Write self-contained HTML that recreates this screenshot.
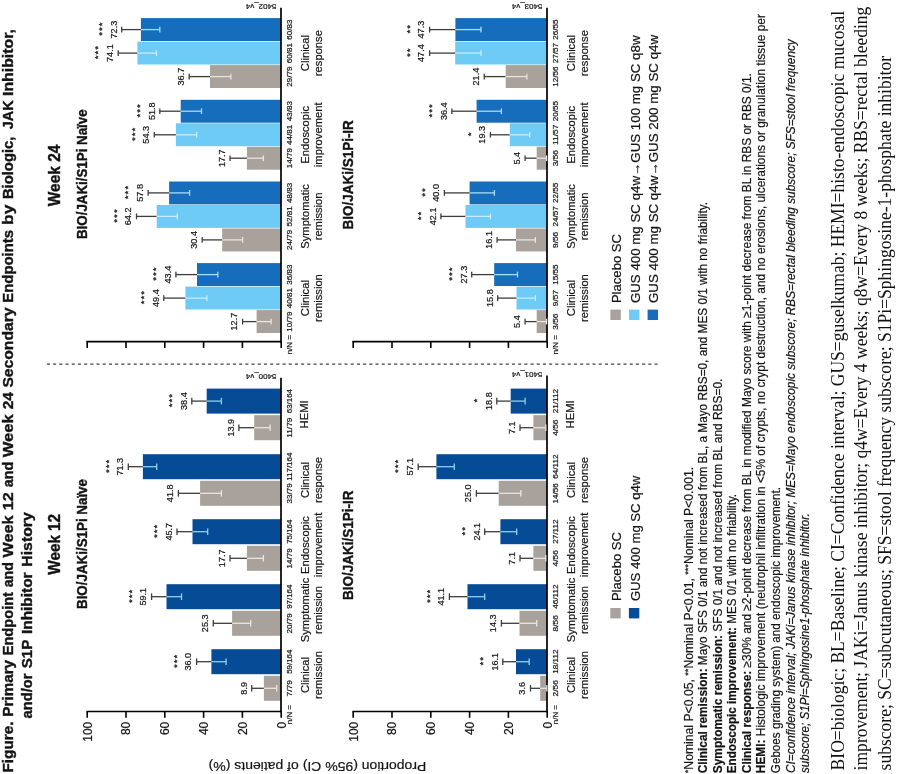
<!DOCTYPE html>
<html lang="en">
<head>
<meta charset="utf-8">
<title>Figure</title>
<style>
html,body{margin:0;padding:0;background:#fff;}
body{width:900px;height:774px;overflow:hidden;}
svg{display:block;}
text{font-family:'Liberation Sans', sans-serif;fill:#111;stroke:#222;stroke-width:0.22px;}
</style>
</head>
<body>
<svg width="900" height="774" viewBox="0 0 900 774">
<rect width="900" height="774" fill="#fff"/>
<g transform="translate(0,774) rotate(-90)">
<text y="13.2" font-size="14.7" font-weight="bold" style="stroke-width:0.4px"><tspan x="1.5" textLength="50.9" lengthAdjust="spacingAndGlyphs">Figure.</tspan> <tspan x="57.3" textLength="56.8" lengthAdjust="spacingAndGlyphs">Primary</tspan> <tspan x="118.7" textLength="63.3" lengthAdjust="spacingAndGlyphs">Endpoint</tspan> <tspan x="186.7" textLength="25.2" lengthAdjust="spacingAndGlyphs">and</tspan> <tspan x="216.5" textLength="41.9" lengthAdjust="spacingAndGlyphs">Week</tspan> <tspan x="263.8" textLength="17.9" lengthAdjust="spacingAndGlyphs">12</tspan> <tspan x="286.8" textLength="25.3" lengthAdjust="spacingAndGlyphs">and</tspan> <tspan x="316.8" textLength="42.9" lengthAdjust="spacingAndGlyphs">Week</tspan> <tspan x="364.7" textLength="17.1" lengthAdjust="spacingAndGlyphs">24</tspan> <tspan x="386.4" textLength="80.2" lengthAdjust="spacingAndGlyphs">Secondary</tspan> <tspan x="471.3" textLength="72.7" lengthAdjust="spacingAndGlyphs">Endpoints</tspan> <tspan x="549.1" textLength="20.2" lengthAdjust="spacingAndGlyphs">by</tspan> <tspan x="574.9" textLength="62.5" lengthAdjust="spacingAndGlyphs">Biologic,</tspan> <tspan x="644.8" textLength="28.8" lengthAdjust="spacingAndGlyphs">JAK</tspan> <tspan x="678.0" textLength="66.9" lengthAdjust="spacingAndGlyphs">Inhibitor,</tspan></text>
<text y="32.1" font-size="14.7" font-weight="bold" style="stroke-width:0.4px"><tspan x="55.6" textLength="44.8" lengthAdjust="spacingAndGlyphs">and/or</tspan> <tspan x="105.7" textLength="28.3" lengthAdjust="spacingAndGlyphs">S1P</tspan> <tspan x="140.0" textLength="61.6" lengthAdjust="spacingAndGlyphs">Inhibitor</tspan> <tspan x="207.3" textLength="54.5" lengthAdjust="spacingAndGlyphs">History</tspan></text>
<text x="229.7" y="59.5" font-size="16" text-anchor="middle" font-weight="bold" style="stroke-width:0.4px" textLength="60.8" lengthAdjust="spacingAndGlyphs">Week 12</text>
<text x="598.6" y="59.5" font-size="16" text-anchor="middle" font-weight="bold" style="stroke-width:0.4px" textLength="61.6" lengthAdjust="spacingAndGlyphs">Week 24</text>
<text transform="translate(12.3,317.5) rotate(-90)" font-size="13.5" text-anchor="middle" textLength="217.6" lengthAdjust="spacingAndGlyphs">Proportion (95% CI) of patients (%)</text>
<line x1="409.8" y1="46.9" x2="409.8" y2="660.5" stroke="#444" stroke-width="1.2" stroke-dasharray="3.1 3.1"/>
<text x="230.0" y="86.5" font-size="13.8" text-anchor="middle" font-weight="bold" style="stroke-width:0.4px" textLength="130.0" lengthAdjust="spacingAndGlyphs">BIO/JAKi/S1Pi Naïve</text>
<rect x="73.2" y="263.9" width="25.0" height="17.3" fill="#a9a19b"/>
<rect x="99.8" y="211.4" width="25.0" height="69.8" fill="#064b96"/>
<rect x="138.2" y="232.1" width="25.0" height="49.1" fill="#a9a19b"/>
<rect x="164.8" y="166.5" width="25.0" height="114.7" fill="#064b96"/>
<rect x="203.2" y="246.9" width="25.0" height="34.3" fill="#a9a19b"/>
<rect x="229.8" y="192.5" width="25.0" height="88.7" fill="#064b96"/>
<rect x="268.2" y="200.1" width="25.0" height="81.1" fill="#a9a19b"/>
<rect x="294.8" y="142.9" width="25.0" height="138.3" fill="#064b96"/>
<rect x="333.8" y="254.2" width="25.0" height="27.0" fill="#a9a19b"/>
<rect x="360.4" y="206.7" width="25.0" height="74.5" fill="#064b96"/>
<line x1="62.5" y1="86.4" x2="62.5" y2="281.8" stroke="#000" stroke-width="1.6"/>
<line x1="61.7" y1="281.0" x2="396.2" y2="281.0" stroke="#000" stroke-width="1.7"/>
<line x1="56.2" y1="281.2" x2="62.5" y2="281.2" stroke="#000" stroke-width="1.6"/>
<text x="52.3" y="285.5" font-size="12" text-anchor="end">0</text>
<line x1="56.2" y1="242.4" x2="62.5" y2="242.4" stroke="#000" stroke-width="1.6"/>
<text x="52.3" y="246.7" font-size="12" text-anchor="end">20</text>
<line x1="56.2" y1="203.6" x2="62.5" y2="203.6" stroke="#000" stroke-width="1.6"/>
<text x="52.3" y="207.9" font-size="12" text-anchor="end">40</text>
<line x1="56.2" y1="164.8" x2="62.5" y2="164.8" stroke="#000" stroke-width="1.6"/>
<text x="52.3" y="169.1" font-size="12" text-anchor="end">60</text>
<line x1="56.2" y1="126.0" x2="62.5" y2="126.0" stroke="#000" stroke-width="1.6"/>
<text x="52.3" y="130.3" font-size="12" text-anchor="end">80</text>
<line x1="56.2" y1="87.2" x2="62.5" y2="87.2" stroke="#000" stroke-width="1.6"/>
<text x="52.3" y="91.5" font-size="12" text-anchor="end">100</text>
<line x1="85.7" y1="251.7" x2="85.7" y2="263.9" stroke="#3c3c3c" stroke-width="1.3"/>
<line x1="82.4" y1="251.7" x2="89.0" y2="251.7" stroke="#3c3c3c" stroke-width="1.3"/>
<line x1="85.7" y1="263.9" x2="85.7" y2="276.7" stroke="#e9e5e1" stroke-width="1.3"/>
<line x1="82.4" y1="276.7" x2="89.0" y2="276.7" stroke="#e9e5e1" stroke-width="1.3"/>
<text x="85.7" y="246.5" font-size="9.1" text-anchor="middle" fill="#222">8.9</text>
<text x="85.7" y="292.1" font-size="7" text-anchor="middle" textLength="16.2" lengthAdjust="spacingAndGlyphs" fill="#222">7/79</text>
<line x1="112.3" y1="196.6" x2="112.3" y2="211.4" stroke="#3c3c3c" stroke-width="1.3"/>
<line x1="109.0" y1="196.6" x2="115.6" y2="196.6" stroke="#3c3c3c" stroke-width="1.3"/>
<line x1="112.3" y1="211.4" x2="112.3" y2="226.1" stroke="#8fd0f2" stroke-width="1.3"/>
<line x1="109.0" y1="226.1" x2="115.6" y2="226.1" stroke="#8fd0f2" stroke-width="1.3"/>
<text x="112.3" y="191.4" font-size="9.1" text-anchor="middle" fill="#222">36.0</text>
<text x="113.2" y="179.8" font-size="9.7" text-anchor="middle" fill="#222" letter-spacing="1.0">***</text>
<text x="112.3" y="292.1" font-size="7" text-anchor="middle" textLength="24.3" lengthAdjust="spacingAndGlyphs" fill="#222">59/164</text>
<line x1="150.7" y1="213.3" x2="150.7" y2="232.1" stroke="#3c3c3c" stroke-width="1.3"/>
<line x1="147.4" y1="213.3" x2="154.0" y2="213.3" stroke="#3c3c3c" stroke-width="1.3"/>
<line x1="150.7" y1="232.1" x2="150.7" y2="250.7" stroke="#e9e5e1" stroke-width="1.3"/>
<line x1="147.4" y1="250.7" x2="154.0" y2="250.7" stroke="#e9e5e1" stroke-width="1.3"/>
<text x="150.7" y="208.1" font-size="9.1" text-anchor="middle" fill="#222">25.3</text>
<text x="150.7" y="292.1" font-size="7" text-anchor="middle" textLength="20.2" lengthAdjust="spacingAndGlyphs" fill="#222">20/79</text>
<line x1="177.3" y1="151.6" x2="177.3" y2="166.5" stroke="#3c3c3c" stroke-width="1.3"/>
<line x1="174.0" y1="151.6" x2="180.6" y2="151.6" stroke="#3c3c3c" stroke-width="1.3"/>
<line x1="177.3" y1="166.5" x2="177.3" y2="181.5" stroke="#8fd0f2" stroke-width="1.3"/>
<line x1="174.0" y1="181.5" x2="180.6" y2="181.5" stroke="#8fd0f2" stroke-width="1.3"/>
<text x="177.3" y="146.4" font-size="9.1" text-anchor="middle" fill="#222">59.1</text>
<text x="178.2" y="134.8" font-size="9.7" text-anchor="middle" fill="#222" letter-spacing="1.0">***</text>
<text x="177.3" y="292.1" font-size="7" text-anchor="middle" textLength="24.3" lengthAdjust="spacingAndGlyphs" fill="#222">97/164</text>
<line x1="215.7" y1="230.0" x2="215.7" y2="246.9" stroke="#3c3c3c" stroke-width="1.3"/>
<line x1="212.4" y1="230.0" x2="219.0" y2="230.0" stroke="#3c3c3c" stroke-width="1.3"/>
<line x1="215.7" y1="246.9" x2="215.7" y2="263.4" stroke="#e9e5e1" stroke-width="1.3"/>
<line x1="212.4" y1="263.4" x2="219.0" y2="263.4" stroke="#e9e5e1" stroke-width="1.3"/>
<text x="215.7" y="224.8" font-size="9.1" text-anchor="middle" fill="#222">17.7</text>
<text x="215.7" y="292.1" font-size="7" text-anchor="middle" textLength="20.2" lengthAdjust="spacingAndGlyphs" fill="#222">14/79</text>
<line x1="242.3" y1="177.0" x2="242.3" y2="192.5" stroke="#3c3c3c" stroke-width="1.3"/>
<line x1="239.0" y1="177.0" x2="245.6" y2="177.0" stroke="#3c3c3c" stroke-width="1.3"/>
<line x1="242.3" y1="192.5" x2="242.3" y2="207.7" stroke="#8fd0f2" stroke-width="1.3"/>
<line x1="239.0" y1="207.7" x2="245.6" y2="207.7" stroke="#8fd0f2" stroke-width="1.3"/>
<text x="242.3" y="171.8" font-size="9.1" text-anchor="middle" fill="#222">45.7</text>
<text x="243.2" y="160.2" font-size="9.7" text-anchor="middle" fill="#222" letter-spacing="1.0">***</text>
<text x="242.3" y="292.1" font-size="7" text-anchor="middle" textLength="24.3" lengthAdjust="spacingAndGlyphs" fill="#222">75/164</text>
<line x1="280.7" y1="178.4" x2="280.7" y2="200.1" stroke="#3c3c3c" stroke-width="1.3"/>
<line x1="277.4" y1="178.4" x2="284.0" y2="178.4" stroke="#3c3c3c" stroke-width="1.3"/>
<line x1="280.7" y1="200.1" x2="280.7" y2="221.4" stroke="#e9e5e1" stroke-width="1.3"/>
<line x1="277.4" y1="221.4" x2="284.0" y2="221.4" stroke="#e9e5e1" stroke-width="1.3"/>
<text x="280.7" y="173.2" font-size="9.1" text-anchor="middle" fill="#222">41.8</text>
<text x="280.7" y="292.1" font-size="7" text-anchor="middle" textLength="20.2" lengthAdjust="spacingAndGlyphs" fill="#222">33/79</text>
<line x1="307.3" y1="128.3" x2="307.3" y2="142.9" stroke="#3c3c3c" stroke-width="1.3"/>
<line x1="304.0" y1="128.3" x2="310.6" y2="128.3" stroke="#3c3c3c" stroke-width="1.3"/>
<line x1="307.3" y1="142.9" x2="307.3" y2="156.7" stroke="#8fd0f2" stroke-width="1.3"/>
<line x1="304.0" y1="156.7" x2="310.6" y2="156.7" stroke="#8fd0f2" stroke-width="1.3"/>
<text x="307.3" y="123.1" font-size="9.1" text-anchor="middle" fill="#222">71.3</text>
<text x="308.2" y="111.5" font-size="9.7" text-anchor="middle" fill="#222" letter-spacing="1.0">***</text>
<text x="307.3" y="292.1" font-size="7" text-anchor="middle" textLength="28.3" lengthAdjust="spacingAndGlyphs" fill="#222">117/164</text>
<line x1="346.3" y1="238.9" x2="346.3" y2="254.2" stroke="#3c3c3c" stroke-width="1.3"/>
<line x1="343.0" y1="238.9" x2="349.6" y2="238.9" stroke="#3c3c3c" stroke-width="1.3"/>
<line x1="346.3" y1="254.2" x2="346.3" y2="270.1" stroke="#e9e5e1" stroke-width="1.3"/>
<line x1="343.0" y1="270.1" x2="349.6" y2="270.1" stroke="#e9e5e1" stroke-width="1.3"/>
<text x="346.3" y="233.7" font-size="9.1" text-anchor="middle" fill="#222">13.9</text>
<text x="346.3" y="292.1" font-size="7" text-anchor="middle" textLength="20.2" lengthAdjust="spacingAndGlyphs" fill="#222">11/79</text>
<line x1="372.9" y1="191.8" x2="372.9" y2="206.7" stroke="#3c3c3c" stroke-width="1.3"/>
<line x1="369.6" y1="191.8" x2="376.2" y2="191.8" stroke="#3c3c3c" stroke-width="1.3"/>
<line x1="372.9" y1="206.7" x2="372.9" y2="221.4" stroke="#8fd0f2" stroke-width="1.3"/>
<line x1="369.6" y1="221.4" x2="376.2" y2="221.4" stroke="#8fd0f2" stroke-width="1.3"/>
<text x="372.9" y="186.6" font-size="9.1" text-anchor="middle" fill="#222">38.4</text>
<text x="373.8" y="175.0" font-size="9.7" text-anchor="middle" fill="#222" letter-spacing="1.0">***</text>
<text x="372.9" y="292.1" font-size="7" text-anchor="middle" textLength="24.3" lengthAdjust="spacingAndGlyphs" fill="#222">63/164</text>
<text x="49.8" y="292.1" font-size="7" textLength="19.2" lengthAdjust="spacingAndGlyphs" fill="#222">n/N =</text>
<text x="99.0" y="308.7" font-size="11.2" text-anchor="middle" fill="#222">Clinical</text>
<text x="99.0" y="321.6" font-size="11.2" text-anchor="middle" fill="#222">remission</text>
<text x="164.0" y="308.7" font-size="11.2" text-anchor="middle" fill="#222">Symptomatic</text>
<text x="164.0" y="321.6" font-size="11.2" text-anchor="middle" fill="#222">remission</text>
<text x="229.0" y="308.7" font-size="11.2" text-anchor="middle" fill="#222">Endoscopic</text>
<text x="229.0" y="321.6" font-size="11.2" text-anchor="middle" fill="#222">improvement</text>
<text x="294.0" y="308.7" font-size="11.2" text-anchor="middle" fill="#222">Clinical</text>
<text x="294.0" y="321.6" font-size="11.2" text-anchor="middle" fill="#222">response</text>
<text x="359.6" y="308.2" font-size="11.2" text-anchor="middle" fill="#222">HEMI</text>
<text transform="translate(400.0,276.3) rotate(-90)" font-size="7.2" fill="#333" textLength="30.4" lengthAdjust="spacingAndGlyphs">5400_v4</text>
<text x="228.8" y="352.5" font-size="13.8" text-anchor="middle" font-weight="bold" style="stroke-width:0.4px" textLength="109.4" lengthAdjust="spacingAndGlyphs">BIO/JAKi/S1Pi-IR</text>
<rect x="73.2" y="540.2" width="25.0" height="7.0" fill="#a9a19b"/>
<rect x="99.8" y="516.0" width="25.0" height="31.2" fill="#064b96"/>
<rect x="138.2" y="519.5" width="25.0" height="27.7" fill="#a9a19b"/>
<rect x="164.8" y="467.5" width="25.0" height="79.7" fill="#064b96"/>
<rect x="203.2" y="533.4" width="25.0" height="13.8" fill="#a9a19b"/>
<rect x="229.8" y="500.4" width="25.0" height="46.8" fill="#064b96"/>
<rect x="268.2" y="498.7" width="25.0" height="48.5" fill="#a9a19b"/>
<rect x="294.8" y="436.4" width="25.0" height="110.8" fill="#064b96"/>
<rect x="333.8" y="533.4" width="25.0" height="13.8" fill="#a9a19b"/>
<rect x="360.4" y="510.7" width="25.0" height="36.5" fill="#064b96"/>
<line x1="62.5" y1="352.4" x2="62.5" y2="547.8" stroke="#000" stroke-width="1.6"/>
<line x1="61.7" y1="547.0" x2="398.4" y2="547.0" stroke="#000" stroke-width="1.7"/>
<line x1="56.2" y1="547.2" x2="62.5" y2="547.2" stroke="#000" stroke-width="1.6"/>
<text x="52.3" y="551.5" font-size="12" text-anchor="end">0</text>
<line x1="56.2" y1="508.4" x2="62.5" y2="508.4" stroke="#000" stroke-width="1.6"/>
<text x="52.3" y="512.7" font-size="12" text-anchor="end">20</text>
<line x1="56.2" y1="469.6" x2="62.5" y2="469.6" stroke="#000" stroke-width="1.6"/>
<text x="52.3" y="473.9" font-size="12" text-anchor="end">40</text>
<line x1="56.2" y1="430.8" x2="62.5" y2="430.8" stroke="#000" stroke-width="1.6"/>
<text x="52.3" y="435.1" font-size="12" text-anchor="end">60</text>
<line x1="56.2" y1="392.0" x2="62.5" y2="392.0" stroke="#000" stroke-width="1.6"/>
<text x="52.3" y="396.3" font-size="12" text-anchor="end">80</text>
<line x1="56.2" y1="353.2" x2="62.5" y2="353.2" stroke="#000" stroke-width="1.6"/>
<text x="52.3" y="357.5" font-size="12" text-anchor="end">100</text>
<line x1="85.7" y1="530.5" x2="85.7" y2="540.2" stroke="#3c3c3c" stroke-width="1.3"/>
<line x1="82.4" y1="530.5" x2="89.0" y2="530.5" stroke="#3c3c3c" stroke-width="1.3"/>
<line x1="85.7" y1="540.2" x2="85.7" y2="546.8" stroke="#e9e5e1" stroke-width="1.3"/>
<line x1="82.4" y1="546.8" x2="89.0" y2="546.8" stroke="#e9e5e1" stroke-width="1.3"/>
<text x="85.7" y="525.3" font-size="9.1" text-anchor="middle" fill="#222">3.6</text>
<text x="85.7" y="558.1" font-size="7" text-anchor="middle" textLength="16.2" lengthAdjust="spacingAndGlyphs" fill="#222">2/56</text>
<line x1="112.3" y1="502.8" x2="112.3" y2="516.0" stroke="#3c3c3c" stroke-width="1.3"/>
<line x1="109.0" y1="502.8" x2="115.6" y2="502.8" stroke="#3c3c3c" stroke-width="1.3"/>
<line x1="112.3" y1="516.0" x2="112.3" y2="529.2" stroke="#8fd0f2" stroke-width="1.3"/>
<line x1="109.0" y1="529.2" x2="115.6" y2="529.2" stroke="#8fd0f2" stroke-width="1.3"/>
<text x="112.3" y="497.6" font-size="9.1" text-anchor="middle" fill="#222">16.1</text>
<text x="113.2" y="486.0" font-size="9.7" text-anchor="middle" fill="#222" letter-spacing="1.0">**</text>
<text x="112.3" y="558.1" font-size="7" text-anchor="middle" textLength="24.3" lengthAdjust="spacingAndGlyphs" fill="#222">18/112</text>
<line x1="150.7" y1="501.4" x2="150.7" y2="519.5" stroke="#3c3c3c" stroke-width="1.3"/>
<line x1="147.4" y1="501.4" x2="154.0" y2="501.4" stroke="#3c3c3c" stroke-width="1.3"/>
<line x1="150.7" y1="519.5" x2="150.7" y2="536.7" stroke="#e9e5e1" stroke-width="1.3"/>
<line x1="147.4" y1="536.7" x2="154.0" y2="536.7" stroke="#e9e5e1" stroke-width="1.3"/>
<text x="150.7" y="496.2" font-size="9.1" text-anchor="middle" fill="#222">14.3</text>
<text x="150.7" y="558.1" font-size="7" text-anchor="middle" textLength="16.2" lengthAdjust="spacingAndGlyphs" fill="#222">8/56</text>
<line x1="177.3" y1="449.4" x2="177.3" y2="467.5" stroke="#3c3c3c" stroke-width="1.3"/>
<line x1="174.0" y1="449.4" x2="180.6" y2="449.4" stroke="#3c3c3c" stroke-width="1.3"/>
<line x1="177.3" y1="467.5" x2="177.3" y2="484.7" stroke="#8fd0f2" stroke-width="1.3"/>
<line x1="174.0" y1="484.7" x2="180.6" y2="484.7" stroke="#8fd0f2" stroke-width="1.3"/>
<text x="177.3" y="444.2" font-size="9.1" text-anchor="middle" fill="#222">41.1</text>
<text x="178.2" y="432.6" font-size="9.7" text-anchor="middle" fill="#222" letter-spacing="1.0">***</text>
<text x="177.3" y="558.1" font-size="7" text-anchor="middle" textLength="24.3" lengthAdjust="spacingAndGlyphs" fill="#222">46/112</text>
<line x1="215.7" y1="520.0" x2="215.7" y2="533.4" stroke="#3c3c3c" stroke-width="1.3"/>
<line x1="212.4" y1="520.0" x2="219.0" y2="520.0" stroke="#3c3c3c" stroke-width="1.3"/>
<line x1="215.7" y1="533.4" x2="215.7" y2="545.8" stroke="#e9e5e1" stroke-width="1.3"/>
<line x1="212.4" y1="545.8" x2="219.0" y2="545.8" stroke="#e9e5e1" stroke-width="1.3"/>
<text x="215.7" y="514.8" font-size="9.1" text-anchor="middle" fill="#222">7.1</text>
<text x="215.7" y="558.1" font-size="7" text-anchor="middle" textLength="16.2" lengthAdjust="spacingAndGlyphs" fill="#222">4/56</text>
<line x1="242.3" y1="484.7" x2="242.3" y2="500.4" stroke="#3c3c3c" stroke-width="1.3"/>
<line x1="239.0" y1="484.7" x2="245.6" y2="484.7" stroke="#3c3c3c" stroke-width="1.3"/>
<line x1="242.3" y1="500.4" x2="242.3" y2="516.7" stroke="#8fd0f2" stroke-width="1.3"/>
<line x1="239.0" y1="516.7" x2="245.6" y2="516.7" stroke="#8fd0f2" stroke-width="1.3"/>
<text x="242.3" y="479.5" font-size="9.1" text-anchor="middle" fill="#222">24.1</text>
<text x="243.2" y="467.9" font-size="9.7" text-anchor="middle" fill="#222" letter-spacing="1.0">**</text>
<text x="242.3" y="558.1" font-size="7" text-anchor="middle" textLength="24.3" lengthAdjust="spacingAndGlyphs" fill="#222">27/112</text>
<line x1="280.7" y1="476.4" x2="280.7" y2="498.7" stroke="#3c3c3c" stroke-width="1.3"/>
<line x1="277.4" y1="476.4" x2="284.0" y2="476.4" stroke="#3c3c3c" stroke-width="1.3"/>
<line x1="280.7" y1="498.7" x2="280.7" y2="520.8" stroke="#e9e5e1" stroke-width="1.3"/>
<line x1="277.4" y1="520.8" x2="284.0" y2="520.8" stroke="#e9e5e1" stroke-width="1.3"/>
<text x="280.7" y="471.2" font-size="9.1" text-anchor="middle" fill="#222">25.0</text>
<text x="280.7" y="558.1" font-size="7" text-anchor="middle" textLength="20.2" lengthAdjust="spacingAndGlyphs" fill="#222">14/56</text>
<line x1="307.3" y1="418.2" x2="307.3" y2="436.4" stroke="#3c3c3c" stroke-width="1.3"/>
<line x1="304.0" y1="418.2" x2="310.6" y2="418.2" stroke="#3c3c3c" stroke-width="1.3"/>
<line x1="307.3" y1="436.4" x2="307.3" y2="454.3" stroke="#8fd0f2" stroke-width="1.3"/>
<line x1="304.0" y1="454.3" x2="310.6" y2="454.3" stroke="#8fd0f2" stroke-width="1.3"/>
<text x="307.3" y="413.0" font-size="9.1" text-anchor="middle" fill="#222">57.1</text>
<text x="308.2" y="401.4" font-size="9.7" text-anchor="middle" fill="#222" letter-spacing="1.0">***</text>
<text x="307.3" y="558.1" font-size="7" text-anchor="middle" textLength="24.3" lengthAdjust="spacingAndGlyphs" fill="#222">64/112</text>
<line x1="346.3" y1="520.0" x2="346.3" y2="533.4" stroke="#3c3c3c" stroke-width="1.3"/>
<line x1="343.0" y1="520.0" x2="349.6" y2="520.0" stroke="#3c3c3c" stroke-width="1.3"/>
<line x1="346.3" y1="533.4" x2="346.3" y2="545.8" stroke="#e9e5e1" stroke-width="1.3"/>
<line x1="343.0" y1="545.8" x2="349.6" y2="545.8" stroke="#e9e5e1" stroke-width="1.3"/>
<text x="346.3" y="514.8" font-size="9.1" text-anchor="middle" fill="#222">7.1</text>
<text x="346.3" y="558.1" font-size="7" text-anchor="middle" textLength="16.2" lengthAdjust="spacingAndGlyphs" fill="#222">4/56</text>
<line x1="372.9" y1="496.8" x2="372.9" y2="510.7" stroke="#3c3c3c" stroke-width="1.3"/>
<line x1="369.6" y1="496.8" x2="376.2" y2="496.8" stroke="#3c3c3c" stroke-width="1.3"/>
<line x1="372.9" y1="510.7" x2="372.9" y2="525.1" stroke="#8fd0f2" stroke-width="1.3"/>
<line x1="369.6" y1="525.1" x2="376.2" y2="525.1" stroke="#8fd0f2" stroke-width="1.3"/>
<text x="372.9" y="491.6" font-size="9.1" text-anchor="middle" fill="#222">18.8</text>
<text x="373.8" y="480.0" font-size="9.7" text-anchor="middle" fill="#222" letter-spacing="1.0">*</text>
<text x="372.9" y="558.1" font-size="7" text-anchor="middle" textLength="24.3" lengthAdjust="spacingAndGlyphs" fill="#222">21/112</text>
<text x="49.8" y="558.1" font-size="7" textLength="19.2" lengthAdjust="spacingAndGlyphs" fill="#222">n/N =</text>
<text x="99.0" y="574.7" font-size="11.2" text-anchor="middle" fill="#222">Clinical</text>
<text x="99.0" y="587.6" font-size="11.2" text-anchor="middle" fill="#222">remission</text>
<text x="164.0" y="574.7" font-size="11.2" text-anchor="middle" fill="#222">Symptomatic</text>
<text x="164.0" y="587.6" font-size="11.2" text-anchor="middle" fill="#222">remission</text>
<text x="229.0" y="574.7" font-size="11.2" text-anchor="middle" fill="#222">Endoscopic</text>
<text x="229.0" y="587.6" font-size="11.2" text-anchor="middle" fill="#222">improvement</text>
<text x="294.0" y="574.7" font-size="11.2" text-anchor="middle" fill="#222">Clinical</text>
<text x="294.0" y="587.6" font-size="11.2" text-anchor="middle" fill="#222">response</text>
<text x="359.6" y="574.2" font-size="11.2" text-anchor="middle" fill="#222">HEMI</text>
<text transform="translate(402.2,542.3) rotate(-90)" font-size="7.2" fill="#333" textLength="30.4" lengthAdjust="spacingAndGlyphs">5401_v4</text>
<text x="599.8" y="86.5" font-size="13.8" text-anchor="middle" font-weight="bold" style="stroke-width:0.4px" textLength="129.6" lengthAdjust="spacingAndGlyphs">BIO/JAKi/S1Pi Naïve</text>
<rect x="441.0" y="256.6" width="22.9" height="24.6" fill="#a9a19b"/>
<rect x="464.5" y="185.4" width="22.9" height="95.8" fill="#6dcbf5"/>
<rect x="488.0" y="197.0" width="22.9" height="84.2" fill="#166dbb"/>
<rect x="522.6" y="222.2" width="22.9" height="59.0" fill="#a9a19b"/>
<rect x="546.1" y="156.7" width="22.9" height="124.5" fill="#6dcbf5"/>
<rect x="569.6" y="169.1" width="22.9" height="112.1" fill="#166dbb"/>
<rect x="604.3" y="246.9" width="22.9" height="34.3" fill="#a9a19b"/>
<rect x="627.8" y="175.9" width="22.9" height="105.3" fill="#6dcbf5"/>
<rect x="651.3" y="180.7" width="22.9" height="100.5" fill="#166dbb"/>
<rect x="686.0" y="210.0" width="22.9" height="71.2" fill="#a9a19b"/>
<rect x="709.5" y="137.4" width="22.9" height="143.8" fill="#6dcbf5"/>
<rect x="733.0" y="140.9" width="22.9" height="140.3" fill="#166dbb"/>
<line x1="432.4" y1="86.4" x2="432.4" y2="281.8" stroke="#000" stroke-width="1.6"/>
<line x1="431.6" y1="281.0" x2="766.2" y2="281.0" stroke="#000" stroke-width="1.7"/>
<line x1="426.1" y1="281.2" x2="432.4" y2="281.2" stroke="#000" stroke-width="1.6"/>
<line x1="426.1" y1="242.4" x2="432.4" y2="242.4" stroke="#000" stroke-width="1.6"/>
<line x1="426.1" y1="203.6" x2="432.4" y2="203.6" stroke="#000" stroke-width="1.6"/>
<line x1="426.1" y1="164.8" x2="432.4" y2="164.8" stroke="#000" stroke-width="1.6"/>
<line x1="426.1" y1="126.0" x2="432.4" y2="126.0" stroke="#000" stroke-width="1.6"/>
<line x1="426.1" y1="87.2" x2="432.4" y2="87.2" stroke="#000" stroke-width="1.6"/>
<line x1="452.4" y1="242.6" x2="452.4" y2="256.6" stroke="#3c3c3c" stroke-width="1.3"/>
<line x1="449.6" y1="242.6" x2="455.3" y2="242.6" stroke="#3c3c3c" stroke-width="1.3"/>
<line x1="452.4" y1="256.6" x2="452.4" y2="271.1" stroke="#e9e5e1" stroke-width="1.3"/>
<line x1="449.6" y1="271.1" x2="455.3" y2="271.1" stroke="#e9e5e1" stroke-width="1.3"/>
<text x="452.4" y="237.4" font-size="9.1" text-anchor="middle" fill="#222">12.7</text>
<text x="452.4" y="292.1" font-size="7" text-anchor="middle" textLength="20.2" lengthAdjust="spacingAndGlyphs" fill="#222">10/79</text>
<line x1="475.9" y1="163.8" x2="475.9" y2="185.4" stroke="#3c3c3c" stroke-width="1.3"/>
<line x1="473.1" y1="163.8" x2="478.8" y2="163.8" stroke="#3c3c3c" stroke-width="1.3"/>
<line x1="475.9" y1="185.4" x2="475.9" y2="206.9" stroke="#c9ecfb" stroke-width="1.3"/>
<line x1="473.1" y1="206.9" x2="478.8" y2="206.9" stroke="#c9ecfb" stroke-width="1.3"/>
<text x="475.9" y="158.6" font-size="9.1" text-anchor="middle" fill="#222">49.4</text>
<text x="476.8" y="147.0" font-size="9.7" text-anchor="middle" fill="#222" letter-spacing="1.0">***</text>
<text x="475.9" y="292.1" font-size="7" text-anchor="middle" textLength="20.2" lengthAdjust="spacingAndGlyphs" fill="#222">40/81</text>
<line x1="499.4" y1="175.9" x2="499.4" y2="197.0" stroke="#3c3c3c" stroke-width="1.3"/>
<line x1="496.6" y1="175.9" x2="502.3" y2="175.9" stroke="#3c3c3c" stroke-width="1.3"/>
<line x1="499.4" y1="197.0" x2="499.4" y2="217.8" stroke="#a9dcf7" stroke-width="1.3"/>
<line x1="496.6" y1="217.8" x2="502.3" y2="217.8" stroke="#a9dcf7" stroke-width="1.3"/>
<text x="499.4" y="170.7" font-size="9.1" text-anchor="middle" fill="#222">43.4</text>
<text x="500.3" y="159.1" font-size="9.7" text-anchor="middle" fill="#222" letter-spacing="1.0">***</text>
<text x="499.4" y="292.1" font-size="7" text-anchor="middle" textLength="20.2" lengthAdjust="spacingAndGlyphs" fill="#222">36/83</text>
<line x1="534.1" y1="202.2" x2="534.1" y2="222.2" stroke="#3c3c3c" stroke-width="1.3"/>
<line x1="531.2" y1="202.2" x2="537.0" y2="202.2" stroke="#3c3c3c" stroke-width="1.3"/>
<line x1="534.1" y1="222.2" x2="534.1" y2="242.6" stroke="#e9e5e1" stroke-width="1.3"/>
<line x1="531.2" y1="242.6" x2="537.0" y2="242.6" stroke="#e9e5e1" stroke-width="1.3"/>
<text x="534.1" y="197.0" font-size="9.1" text-anchor="middle" fill="#222">30.4</text>
<text x="534.1" y="292.1" font-size="7" text-anchor="middle" textLength="20.2" lengthAdjust="spacingAndGlyphs" fill="#222">24/79</text>
<line x1="557.6" y1="136.5" x2="557.6" y2="156.7" stroke="#3c3c3c" stroke-width="1.3"/>
<line x1="554.7" y1="136.5" x2="560.5" y2="136.5" stroke="#3c3c3c" stroke-width="1.3"/>
<line x1="557.6" y1="156.7" x2="557.6" y2="177.2" stroke="#c9ecfb" stroke-width="1.3"/>
<line x1="554.7" y1="177.2" x2="560.5" y2="177.2" stroke="#c9ecfb" stroke-width="1.3"/>
<text x="557.6" y="131.3" font-size="9.1" text-anchor="middle" fill="#222">64.2</text>
<text x="558.5" y="119.7" font-size="9.7" text-anchor="middle" fill="#222" letter-spacing="1.0">***</text>
<text x="557.6" y="292.1" font-size="7" text-anchor="middle" textLength="20.2" lengthAdjust="spacingAndGlyphs" fill="#222">52/81</text>
<line x1="581.1" y1="148.1" x2="581.1" y2="169.1" stroke="#3c3c3c" stroke-width="1.3"/>
<line x1="578.2" y1="148.1" x2="584.0" y2="148.1" stroke="#3c3c3c" stroke-width="1.3"/>
<line x1="581.1" y1="169.1" x2="581.1" y2="189.6" stroke="#a9dcf7" stroke-width="1.3"/>
<line x1="578.2" y1="189.6" x2="584.0" y2="189.6" stroke="#a9dcf7" stroke-width="1.3"/>
<text x="581.1" y="142.9" font-size="9.1" text-anchor="middle" fill="#222">57.8</text>
<text x="582.0" y="131.3" font-size="9.7" text-anchor="middle" fill="#222" letter-spacing="1.0">***</text>
<text x="581.1" y="292.1" font-size="7" text-anchor="middle" textLength="20.2" lengthAdjust="spacingAndGlyphs" fill="#222">48/83</text>
<line x1="615.8" y1="230.0" x2="615.8" y2="246.9" stroke="#3c3c3c" stroke-width="1.3"/>
<line x1="612.9" y1="230.0" x2="618.6" y2="230.0" stroke="#3c3c3c" stroke-width="1.3"/>
<line x1="615.8" y1="246.9" x2="615.8" y2="263.4" stroke="#e9e5e1" stroke-width="1.3"/>
<line x1="612.9" y1="263.4" x2="618.6" y2="263.4" stroke="#e9e5e1" stroke-width="1.3"/>
<text x="615.8" y="224.8" font-size="9.1" text-anchor="middle" fill="#222">17.7</text>
<text x="615.8" y="292.1" font-size="7" text-anchor="middle" textLength="20.2" lengthAdjust="spacingAndGlyphs" fill="#222">14/79</text>
<line x1="639.2" y1="154.3" x2="639.2" y2="175.9" stroke="#3c3c3c" stroke-width="1.3"/>
<line x1="636.4" y1="154.3" x2="642.1" y2="154.3" stroke="#3c3c3c" stroke-width="1.3"/>
<line x1="639.2" y1="175.9" x2="639.2" y2="196.6" stroke="#c9ecfb" stroke-width="1.3"/>
<line x1="636.4" y1="196.6" x2="642.1" y2="196.6" stroke="#c9ecfb" stroke-width="1.3"/>
<text x="639.2" y="149.1" font-size="9.1" text-anchor="middle" fill="#222">54.3</text>
<text x="640.1" y="137.5" font-size="9.7" text-anchor="middle" fill="#222" letter-spacing="1.0">***</text>
<text x="639.2" y="292.1" font-size="7" text-anchor="middle" textLength="20.2" lengthAdjust="spacingAndGlyphs" fill="#222">44/81</text>
<line x1="662.8" y1="159.8" x2="662.8" y2="180.7" stroke="#3c3c3c" stroke-width="1.3"/>
<line x1="659.9" y1="159.8" x2="665.6" y2="159.8" stroke="#3c3c3c" stroke-width="1.3"/>
<line x1="662.8" y1="180.7" x2="662.8" y2="201.5" stroke="#a9dcf7" stroke-width="1.3"/>
<line x1="659.9" y1="201.5" x2="665.6" y2="201.5" stroke="#a9dcf7" stroke-width="1.3"/>
<text x="662.8" y="154.6" font-size="9.1" text-anchor="middle" fill="#222">51.8</text>
<text x="663.6" y="143.0" font-size="9.7" text-anchor="middle" fill="#222" letter-spacing="1.0">***</text>
<text x="662.8" y="292.1" font-size="7" text-anchor="middle" textLength="20.2" lengthAdjust="spacingAndGlyphs" fill="#222">43/83</text>
<line x1="697.4" y1="189.2" x2="697.4" y2="210.0" stroke="#3c3c3c" stroke-width="1.3"/>
<line x1="694.5" y1="189.2" x2="700.3" y2="189.2" stroke="#3c3c3c" stroke-width="1.3"/>
<line x1="697.4" y1="210.0" x2="697.4" y2="230.8" stroke="#e9e5e1" stroke-width="1.3"/>
<line x1="694.5" y1="230.8" x2="700.3" y2="230.8" stroke="#e9e5e1" stroke-width="1.3"/>
<text x="697.4" y="184.0" font-size="9.1" text-anchor="middle" fill="#222">36.7</text>
<text x="697.4" y="292.1" font-size="7" text-anchor="middle" textLength="20.2" lengthAdjust="spacingAndGlyphs" fill="#222">29/79</text>
<line x1="720.9" y1="118.2" x2="720.9" y2="137.4" stroke="#3c3c3c" stroke-width="1.3"/>
<line x1="718.0" y1="118.2" x2="723.8" y2="118.2" stroke="#3c3c3c" stroke-width="1.3"/>
<line x1="720.9" y1="137.4" x2="720.9" y2="156.5" stroke="#c9ecfb" stroke-width="1.3"/>
<line x1="718.0" y1="156.5" x2="723.8" y2="156.5" stroke="#c9ecfb" stroke-width="1.3"/>
<text x="720.9" y="113.0" font-size="9.1" text-anchor="middle" fill="#222">74.1</text>
<text x="721.8" y="101.4" font-size="9.7" text-anchor="middle" fill="#222" letter-spacing="1.0">***</text>
<text x="720.9" y="292.1" font-size="7" text-anchor="middle" textLength="20.2" lengthAdjust="spacingAndGlyphs" fill="#222">60/81</text>
<line x1="744.4" y1="121.7" x2="744.4" y2="140.9" stroke="#3c3c3c" stroke-width="1.3"/>
<line x1="741.5" y1="121.7" x2="747.3" y2="121.7" stroke="#3c3c3c" stroke-width="1.3"/>
<line x1="744.4" y1="140.9" x2="744.4" y2="159.8" stroke="#a9dcf7" stroke-width="1.3"/>
<line x1="741.5" y1="159.8" x2="747.3" y2="159.8" stroke="#a9dcf7" stroke-width="1.3"/>
<text x="744.4" y="116.5" font-size="9.1" text-anchor="middle" fill="#222">72.3</text>
<text x="745.3" y="104.9" font-size="9.7" text-anchor="middle" fill="#222" letter-spacing="1.0">***</text>
<text x="744.4" y="292.1" font-size="7" text-anchor="middle" textLength="20.2" lengthAdjust="spacingAndGlyphs" fill="#222">60/83</text>
<text x="419.7" y="292.1" font-size="7" textLength="19.2" lengthAdjust="spacingAndGlyphs" fill="#222">n/N =</text>
<text x="475.9" y="308.7" font-size="11.2" text-anchor="middle" fill="#222">Clinical</text>
<text x="475.9" y="321.6" font-size="11.2" text-anchor="middle" fill="#222">remission</text>
<text x="557.6" y="308.7" font-size="11.2" text-anchor="middle" fill="#222">Symptomatic</text>
<text x="557.6" y="321.6" font-size="11.2" text-anchor="middle" fill="#222">remission</text>
<text x="639.2" y="308.7" font-size="11.2" text-anchor="middle" fill="#222">Endoscopic</text>
<text x="639.2" y="321.6" font-size="11.2" text-anchor="middle" fill="#222">improvement</text>
<text x="720.9" y="308.7" font-size="11.2" text-anchor="middle" fill="#222">Clinical</text>
<text x="720.9" y="321.6" font-size="11.2" text-anchor="middle" fill="#222">response</text>
<text transform="translate(770.0,276.3) rotate(-90)" font-size="7.2" fill="#333" textLength="30.4" lengthAdjust="spacingAndGlyphs">5402_v4</text>
<text x="599.2" y="352.5" font-size="13.8" text-anchor="middle" font-weight="bold" style="stroke-width:0.4px" textLength="109.3" lengthAdjust="spacingAndGlyphs">BIO/JAKi/S1Pi-IR</text>
<rect x="441.0" y="536.7" width="22.9" height="10.5" fill="#a9a19b"/>
<rect x="464.5" y="516.5" width="22.9" height="30.7" fill="#6dcbf5"/>
<rect x="488.0" y="494.2" width="22.9" height="53.0" fill="#166dbb"/>
<rect x="522.6" y="516.0" width="22.9" height="31.2" fill="#a9a19b"/>
<rect x="546.1" y="465.5" width="22.9" height="81.7" fill="#6dcbf5"/>
<rect x="569.6" y="469.6" width="22.9" height="77.6" fill="#166dbb"/>
<rect x="604.3" y="536.7" width="22.9" height="10.5" fill="#a9a19b"/>
<rect x="627.8" y="509.8" width="22.9" height="37.4" fill="#6dcbf5"/>
<rect x="651.3" y="476.6" width="22.9" height="70.6" fill="#166dbb"/>
<rect x="686.0" y="505.7" width="22.9" height="41.5" fill="#a9a19b"/>
<rect x="709.5" y="455.2" width="22.9" height="92.0" fill="#6dcbf5"/>
<rect x="733.0" y="455.4" width="22.9" height="91.8" fill="#166dbb"/>
<line x1="432.4" y1="352.4" x2="432.4" y2="547.8" stroke="#000" stroke-width="1.6"/>
<line x1="431.6" y1="547.0" x2="766.2" y2="547.0" stroke="#000" stroke-width="1.7"/>
<line x1="426.1" y1="547.2" x2="432.4" y2="547.2" stroke="#000" stroke-width="1.6"/>
<line x1="426.1" y1="508.4" x2="432.4" y2="508.4" stroke="#000" stroke-width="1.6"/>
<line x1="426.1" y1="469.6" x2="432.4" y2="469.6" stroke="#000" stroke-width="1.6"/>
<line x1="426.1" y1="430.8" x2="432.4" y2="430.8" stroke="#000" stroke-width="1.6"/>
<line x1="426.1" y1="392.0" x2="432.4" y2="392.0" stroke="#000" stroke-width="1.6"/>
<line x1="426.1" y1="353.2" x2="432.4" y2="353.2" stroke="#000" stroke-width="1.6"/>
<line x1="452.4" y1="525.1" x2="452.4" y2="536.7" stroke="#3c3c3c" stroke-width="1.3"/>
<line x1="449.6" y1="525.1" x2="455.3" y2="525.1" stroke="#3c3c3c" stroke-width="1.3"/>
<line x1="452.4" y1="536.7" x2="452.4" y2="546.6" stroke="#e9e5e1" stroke-width="1.3"/>
<line x1="449.6" y1="546.6" x2="455.3" y2="546.6" stroke="#e9e5e1" stroke-width="1.3"/>
<text x="452.4" y="519.9" font-size="9.1" text-anchor="middle" fill="#222">5.4</text>
<text x="452.4" y="558.1" font-size="7" text-anchor="middle" textLength="16.2" lengthAdjust="spacingAndGlyphs" fill="#222">3/56</text>
<line x1="475.9" y1="497.7" x2="475.9" y2="516.5" stroke="#3c3c3c" stroke-width="1.3"/>
<line x1="473.1" y1="497.7" x2="478.8" y2="497.7" stroke="#3c3c3c" stroke-width="1.3"/>
<line x1="475.9" y1="516.5" x2="475.9" y2="535.4" stroke="#c9ecfb" stroke-width="1.3"/>
<line x1="473.1" y1="535.4" x2="478.8" y2="535.4" stroke="#c9ecfb" stroke-width="1.3"/>
<text x="475.9" y="492.5" font-size="9.1" text-anchor="middle" fill="#222">15.8</text>
<text x="475.9" y="558.1" font-size="7" text-anchor="middle" textLength="16.2" lengthAdjust="spacingAndGlyphs" fill="#222">9/57</text>
<line x1="499.4" y1="471.7" x2="499.4" y2="494.2" stroke="#3c3c3c" stroke-width="1.3"/>
<line x1="496.6" y1="471.7" x2="502.3" y2="471.7" stroke="#3c3c3c" stroke-width="1.3"/>
<line x1="499.4" y1="494.2" x2="499.4" y2="517.5" stroke="#a9dcf7" stroke-width="1.3"/>
<line x1="496.6" y1="517.5" x2="502.3" y2="517.5" stroke="#a9dcf7" stroke-width="1.3"/>
<text x="499.4" y="466.5" font-size="9.1" text-anchor="middle" fill="#222">27.3</text>
<text x="500.3" y="454.9" font-size="9.7" text-anchor="middle" fill="#222" letter-spacing="1.0">***</text>
<text x="499.4" y="558.1" font-size="7" text-anchor="middle" textLength="20.2" lengthAdjust="spacingAndGlyphs" fill="#222">15/55</text>
<line x1="534.1" y1="497.1" x2="534.1" y2="516.0" stroke="#3c3c3c" stroke-width="1.3"/>
<line x1="531.2" y1="497.1" x2="537.0" y2="497.1" stroke="#3c3c3c" stroke-width="1.3"/>
<line x1="534.1" y1="516.0" x2="534.1" y2="535.4" stroke="#e9e5e1" stroke-width="1.3"/>
<line x1="531.2" y1="535.4" x2="537.0" y2="535.4" stroke="#e9e5e1" stroke-width="1.3"/>
<text x="534.1" y="491.9" font-size="9.1" text-anchor="middle" fill="#222">16.1</text>
<text x="534.1" y="558.1" font-size="7" text-anchor="middle" textLength="16.2" lengthAdjust="spacingAndGlyphs" fill="#222">9/56</text>
<line x1="557.6" y1="440.9" x2="557.6" y2="465.5" stroke="#3c3c3c" stroke-width="1.3"/>
<line x1="554.7" y1="440.9" x2="560.5" y2="440.9" stroke="#3c3c3c" stroke-width="1.3"/>
<line x1="557.6" y1="465.5" x2="557.6" y2="490.4" stroke="#c9ecfb" stroke-width="1.3"/>
<line x1="554.7" y1="490.4" x2="560.5" y2="490.4" stroke="#c9ecfb" stroke-width="1.3"/>
<text x="557.6" y="435.7" font-size="9.1" text-anchor="middle" fill="#222">42.1</text>
<text x="558.5" y="424.1" font-size="9.7" text-anchor="middle" fill="#222" letter-spacing="1.0">**</text>
<text x="557.6" y="558.1" font-size="7" text-anchor="middle" textLength="20.2" lengthAdjust="spacingAndGlyphs" fill="#222">24/57</text>
<line x1="581.1" y1="444.4" x2="581.1" y2="469.6" stroke="#3c3c3c" stroke-width="1.3"/>
<line x1="578.2" y1="444.4" x2="584.0" y2="444.4" stroke="#3c3c3c" stroke-width="1.3"/>
<line x1="581.1" y1="469.6" x2="581.1" y2="494.4" stroke="#a9dcf7" stroke-width="1.3"/>
<line x1="578.2" y1="494.4" x2="584.0" y2="494.4" stroke="#a9dcf7" stroke-width="1.3"/>
<text x="581.1" y="439.2" font-size="9.1" text-anchor="middle" fill="#222">40.0</text>
<text x="582.0" y="427.6" font-size="9.7" text-anchor="middle" fill="#222" letter-spacing="1.0">**</text>
<text x="581.1" y="558.1" font-size="7" text-anchor="middle" textLength="20.2" lengthAdjust="spacingAndGlyphs" fill="#222">22/55</text>
<line x1="615.8" y1="525.1" x2="615.8" y2="536.7" stroke="#3c3c3c" stroke-width="1.3"/>
<line x1="612.9" y1="525.1" x2="618.6" y2="525.1" stroke="#3c3c3c" stroke-width="1.3"/>
<line x1="615.8" y1="536.7" x2="615.8" y2="546.6" stroke="#e9e5e1" stroke-width="1.3"/>
<line x1="612.9" y1="546.6" x2="618.6" y2="546.6" stroke="#e9e5e1" stroke-width="1.3"/>
<text x="615.8" y="519.9" font-size="9.1" text-anchor="middle" fill="#222">5.4</text>
<text x="615.8" y="558.1" font-size="7" text-anchor="middle" textLength="16.2" lengthAdjust="spacingAndGlyphs" fill="#222">3/56</text>
<line x1="639.2" y1="490.4" x2="639.2" y2="509.8" stroke="#3c3c3c" stroke-width="1.3"/>
<line x1="636.4" y1="490.4" x2="642.1" y2="490.4" stroke="#3c3c3c" stroke-width="1.3"/>
<line x1="639.2" y1="509.8" x2="639.2" y2="529.7" stroke="#c9ecfb" stroke-width="1.3"/>
<line x1="636.4" y1="529.7" x2="642.1" y2="529.7" stroke="#c9ecfb" stroke-width="1.3"/>
<text x="639.2" y="485.2" font-size="9.1" text-anchor="middle" fill="#222">19.3</text>
<text x="640.1" y="473.6" font-size="9.7" text-anchor="middle" fill="#222" letter-spacing="1.0">*</text>
<text x="639.2" y="558.1" font-size="7" text-anchor="middle" textLength="20.2" lengthAdjust="spacingAndGlyphs" fill="#222">11/57</text>
<line x1="662.8" y1="451.9" x2="662.8" y2="476.6" stroke="#3c3c3c" stroke-width="1.3"/>
<line x1="659.9" y1="451.9" x2="665.6" y2="451.9" stroke="#3c3c3c" stroke-width="1.3"/>
<line x1="662.8" y1="476.6" x2="662.8" y2="501.4" stroke="#a9dcf7" stroke-width="1.3"/>
<line x1="659.9" y1="501.4" x2="665.6" y2="501.4" stroke="#a9dcf7" stroke-width="1.3"/>
<text x="662.8" y="446.7" font-size="9.1" text-anchor="middle" fill="#222">36.4</text>
<text x="663.6" y="435.1" font-size="9.7" text-anchor="middle" fill="#222" letter-spacing="1.0">***</text>
<text x="662.8" y="558.1" font-size="7" text-anchor="middle" textLength="20.2" lengthAdjust="spacingAndGlyphs" fill="#222">20/55</text>
<line x1="697.4" y1="484.2" x2="697.4" y2="505.7" stroke="#3c3c3c" stroke-width="1.3"/>
<line x1="694.5" y1="484.2" x2="700.3" y2="484.2" stroke="#3c3c3c" stroke-width="1.3"/>
<line x1="697.4" y1="505.7" x2="697.4" y2="526.8" stroke="#e9e5e1" stroke-width="1.3"/>
<line x1="694.5" y1="526.8" x2="700.3" y2="526.8" stroke="#e9e5e1" stroke-width="1.3"/>
<text x="697.4" y="479.0" font-size="9.1" text-anchor="middle" fill="#222">21.4</text>
<text x="697.4" y="558.1" font-size="7" text-anchor="middle" textLength="20.2" lengthAdjust="spacingAndGlyphs" fill="#222">12/56</text>
<line x1="720.9" y1="429.6" x2="720.9" y2="455.2" stroke="#3c3c3c" stroke-width="1.3"/>
<line x1="718.0" y1="429.6" x2="723.8" y2="429.6" stroke="#3c3c3c" stroke-width="1.3"/>
<line x1="720.9" y1="455.2" x2="720.9" y2="481.0" stroke="#c9ecfb" stroke-width="1.3"/>
<line x1="718.0" y1="481.0" x2="723.8" y2="481.0" stroke="#c9ecfb" stroke-width="1.3"/>
<text x="720.9" y="424.4" font-size="9.1" text-anchor="middle" fill="#222">47.4</text>
<text x="721.8" y="412.8" font-size="9.7" text-anchor="middle" fill="#222" letter-spacing="1.0">**</text>
<text x="720.9" y="558.1" font-size="7" text-anchor="middle" textLength="20.2" lengthAdjust="spacingAndGlyphs" fill="#222">27/57</text>
<line x1="744.4" y1="429.6" x2="744.4" y2="455.4" stroke="#3c3c3c" stroke-width="1.3"/>
<line x1="741.5" y1="429.6" x2="747.3" y2="429.6" stroke="#3c3c3c" stroke-width="1.3"/>
<line x1="744.4" y1="455.4" x2="744.4" y2="481.0" stroke="#a9dcf7" stroke-width="1.3"/>
<line x1="741.5" y1="481.0" x2="747.3" y2="481.0" stroke="#a9dcf7" stroke-width="1.3"/>
<text x="744.4" y="424.4" font-size="9.1" text-anchor="middle" fill="#222">47.3</text>
<text x="745.3" y="412.8" font-size="9.7" text-anchor="middle" fill="#222" letter-spacing="1.0">**</text>
<text x="744.4" y="558.1" font-size="7" text-anchor="middle" textLength="20.2" lengthAdjust="spacingAndGlyphs" fill="#222">26/55</text>
<text x="419.7" y="558.1" font-size="7" textLength="19.2" lengthAdjust="spacingAndGlyphs" fill="#222">n/N =</text>
<text x="475.9" y="574.7" font-size="11.2" text-anchor="middle" fill="#222">Clinical</text>
<text x="475.9" y="587.6" font-size="11.2" text-anchor="middle" fill="#222">remission</text>
<text x="557.6" y="574.7" font-size="11.2" text-anchor="middle" fill="#222">Symptomatic</text>
<text x="557.6" y="587.6" font-size="11.2" text-anchor="middle" fill="#222">remission</text>
<text x="639.2" y="574.7" font-size="11.2" text-anchor="middle" fill="#222">Endoscopic</text>
<text x="639.2" y="587.6" font-size="11.2" text-anchor="middle" fill="#222">improvement</text>
<text x="720.9" y="574.7" font-size="11.2" text-anchor="middle" fill="#222">Clinical</text>
<text x="720.9" y="587.6" font-size="11.2" text-anchor="middle" fill="#222">response</text>
<text transform="translate(770.0,542.3) rotate(-90)" font-size="7.2" fill="#333" textLength="30.4" lengthAdjust="spacingAndGlyphs">5403_v4</text>
<rect x="155.6" y="610.3" width="10.4" height="10.4" fill="#a9a19b"/>
<text x="172.9" y="620.9" font-size="13.1">Placebo SC</text>
<rect x="155.6" y="628.9" width="10.4" height="10.4" fill="#064b96"/>
<text x="172.9" y="639.5" font-size="13.1" textLength="125.4" lengthAdjust="spacingAndGlyphs">GUS 400 mg SC q4w</text>
<rect x="454.0" y="610.4" width="10.4" height="10.4" fill="#a9a19b"/>
<text x="470.9" y="621.0" font-size="13.1">Placebo SC</text>
<rect x="454.0" y="629.0" width="10.4" height="10.4" fill="#6dcbf5"/>
<text x="470.9" y="639.6" font-size="13.1" textLength="267.6" lengthAdjust="spacingAndGlyphs">GUS 400 mg SC q4w→GUS 100 mg SC q8w</text>
<rect x="454.0" y="647.6" width="10.4" height="10.4" fill="#166dbb"/>
<text x="470.9" y="658.2" font-size="13.1" textLength="268.2" lengthAdjust="spacingAndGlyphs">GUS 400 mg SC q4w→GUS 200 mg SC q4w</text>
<text x="0.8" y="692.5" font-size="12.4" textLength="306.4" lengthAdjust="spacingAndGlyphs"><tspan font-size='9.3' dy='-1.5'>*</tspan><tspan dy='1.5'>Nominal P&lt;0.05, </tspan><tspan font-size='9.3' dy='-1.5'>**</tspan><tspan dy='1.5'>Nominal P&lt;0.01, </tspan><tspan font-size='9.3' dy='-1.5'>***</tspan><tspan dy='1.5'>Nominal P&lt;0.001.</tspan></text>
<text x="0.8" y="707.1" font-size="12.4" textLength="571.2" lengthAdjust="spacingAndGlyphs"><tspan font-weight='bold'>Clinical remission:</tspan> Mayo SFS 0/1 and not increased from BL, a Mayo RBS=0, and MES 0/1 with no friability.</text>
<text x="0.8" y="721.7" font-size="12.4" textLength="394.5" lengthAdjust="spacingAndGlyphs"><tspan font-weight='bold'>Symptomatic remission:</tspan> SFS 0/1 and not increased from BL and RBS=0.</text>
<text x="0.8" y="736.2" font-size="12.4" textLength="279.3" lengthAdjust="spacingAndGlyphs"><tspan font-weight='bold'>Endoscopic improvement:</tspan> MES 0/1 with no friability.</text>
<text x="0.8" y="750.8" font-size="12.4" textLength="700.1" lengthAdjust="spacingAndGlyphs"><tspan font-weight='bold'>Clinical response:</tspan> ≥30% and ≥2-point decrease from BL in modified Mayo score with ≥1-point decrease from BL in RBS or RBS 0/1.</text>
<text x="0.8" y="765.4" font-size="12.4" textLength="759.1" lengthAdjust="spacingAndGlyphs"><tspan font-weight='bold'>HEMI:</tspan> Histologic improvement (neutrophil infiltration in &lt;5% of crypts, no crypt destruction, and no erosions, ulcerations or granulation tissue per</text>
<text x="0.8" y="780.0" font-size="12.4" textLength="286.3" lengthAdjust="spacingAndGlyphs">Geboes grading system) and endoscopic improvement.</text>
<text x="1.0" y="794.6" font-size="12.3" font-style="italic" textLength="733.8" lengthAdjust="spacingAndGlyphs">CI=confidence interval; JAKi=Janus kinase inhibitor; MES=Mayo endoscopic subscore; RBS=rectal bleeding subscore; SFS=stool frequency</text>
<text x="1.0" y="809.1" font-size="12.3" font-style="italic" textLength="259.8" lengthAdjust="spacingAndGlyphs">subscore; S1Pi=Sphingosine1-phosphate inhibitor.</text>
<text x="3.6" y="844.0" font-size="18.3" textLength="759.5" lengthAdjust="spacingAndGlyphs" fill="#222" style="font-family:'Liberation Serif', serif;stroke:none">BIO=biologic; BL=Baseline; CI=Confidence interval; GUS=guselkumab; HEMI=histo-endoscopic mucosal</text>
<text x="3.6" y="867.2" font-size="18.3" textLength="763.8" lengthAdjust="spacingAndGlyphs" fill="#222" style="font-family:'Liberation Serif', serif;stroke:none">improvement; JAKi=Janus kinase inhibitor; q4w=Every 4 weeks; q8w=Every 8 weeks; RBS=rectal bleeding</text>
<text x="3.6" y="890.6" font-size="18.3" textLength="714.5" lengthAdjust="spacingAndGlyphs" fill="#222" style="font-family:'Liberation Serif', serif;stroke:none">subscore; SC=subcutaneous; SFS=stool frequency subscore; S1Pi=Sphingosine-1-phosphate inhibitor</text>
</g>
</svg>
</body>
</html>
